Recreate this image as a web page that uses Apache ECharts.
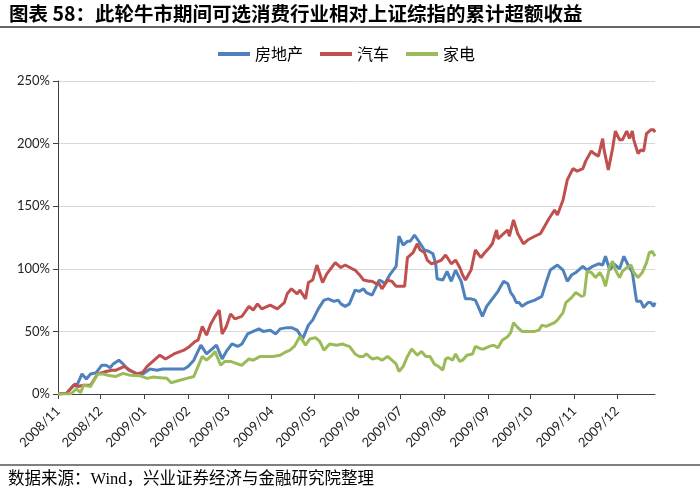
<!DOCTYPE html>
<html><head><meta charset="utf-8">
<script src="https://cdn.jsdelivr.net/npm/echarts@6/dist/echarts.min.js"></script>
<style>html,body{margin:0;padding:0;background:#fff}#c{width:700px;height:489px}</style>
</head><body><div id="c"></div>
<script>
const titleText = '图表 58：此轮牛市期间可选消费行业相对上证综指的累计超额收益';
const sourceText = '数据来源：Wind，兴业证券经济与金融研究院整理';
const seriesNames = ['房地产', '汽车', '家电'];
const seriesColors = ['#4F81BD', '#C0504D', '#9BBB59'];
const tickLabels = ['2008/11','2008/12','2009/01','2009/02','2009/03','2009/04','2009/05','2009/06','2009/07','2009/08','2009/09','2009/10','2009/11','2009/12'];
const tickDates = ['2008-11-04','2008-12-04','2009-01-04','2009-02-04','2009-03-04','2009-04-04','2009-05-04','2009-06-04','2009-07-04','2009-08-04','2009-09-04','2009-10-04','2009-11-04','2009-12-04'];
const xStart = '2008-11-04';
const xEnd = '2009-12-31';

// 房地产 (%)
const realEstate = [
['2008-11-04',0],['2008-11-10',0.5],['2008-11-15',7],['2008-11-17',6],['2008-11-21',16],['2008-11-24',12],['2008-11-27',16],
['2008-12-01',17],['2008-12-05',23],['2008-12-08',23],['2008-12-11',21],['2008-12-13',24],['2008-12-17',27],['2008-12-20',24],['2008-12-24',19],['2008-12-30',16],
['2009-01-03',16],['2009-01-08',20],['2009-01-13',19],['2009-01-17',20],['2009-01-22',20],
['2009-02-01',20],['2009-02-04',22],['2009-02-08',27],['2009-02-13',39],['2009-02-17',32],['2009-02-21',36],['2009-02-24',39],['2009-02-28',28],
['2009-03-03',34],['2009-03-07',40],['2009-03-11',38],['2009-03-14',40],['2009-03-18',48],['2009-03-22',50],['2009-03-26',52],['2009-03-29',50],
['2009-04-03',51],['2009-04-07',48],['2009-04-10',52],['2009-04-15',53],['2009-04-18',53],['2009-04-22',51],['2009-04-26',44],['2009-04-30',55],
['2009-05-03',59],['2009-05-07',68],['2009-05-11',75],['2009-05-14',76],['2009-05-18',74],['2009-05-21',75],['2009-05-23',72],['2009-05-26',70],['2009-05-29',72],
['2009-06-02',83],['2009-06-05',82],['2009-06-08',84],['2009-06-10',81],['2009-06-14',79],['2009-06-17',86],['2009-06-19',91],['2009-06-21',90],['2009-06-23',88],['2009-06-27',96],
['2009-07-01',102],['2009-07-03',126],['2009-07-06',119],['2009-07-09',122],['2009-07-11',122],['2009-07-14',127],['2009-07-17',122],['2009-07-21',115],['2009-07-24',114],['2009-07-27',112],['2009-07-29',104],['2009-07-30',92],
['2009-08-03',91],['2009-08-06',98],['2009-08-09',90],['2009-08-12',99],['2009-08-16',90],['2009-08-19',76],['2009-08-23',76],['2009-08-26',75],['2009-08-28',70],['2009-08-31',62],
['2009-09-03',70],['2009-09-07',76],['2009-09-11',82],['2009-09-13',86],['2009-09-15',90],['2009-09-18',88],['2009-09-20',81],['2009-09-22',78],['2009-09-24',73],['2009-09-26',73],['2009-09-28',70],
['2009-10-02',73],['2009-10-07',75],['2009-10-12',78],['2009-10-15',89],['2009-10-18',99],['2009-10-23',103],['2009-10-27',99],['2009-10-30',90],
['2009-11-02',95],['2009-11-05',97],['2009-11-07',99],['2009-11-10',102],['2009-11-13',99],['2009-11-17',102],['2009-11-21',104],['2009-11-24',103],['2009-11-26',110],['2009-11-29',99],
['2009-12-02',104],['2009-12-06',100],['2009-12-09',110],['2009-12-12',103],['2009-12-15',97],['2009-12-18',74],['2009-12-21',74],['2009-12-23',69],['2009-12-26',73],['2009-12-28',73],['2009-12-30',70],['2009-12-31',73]
];

// 汽车 (%)
const automobile = [
['2008-11-04',0],['2008-11-10',0.5],['2008-11-16',8],['2008-11-18',6],['2008-11-22',7],['2008-11-27',7],
['2008-12-02',16],['2008-12-08',18],['2008-12-12',19],['2008-12-15',19],['2008-12-21',22],['2008-12-25',19],['2008-12-30',16],
['2009-01-03',17.5],['2009-01-06',22],['2009-01-10',26],['2009-01-15',31],['2009-01-19',28],['2009-01-25',32],
['2009-02-01',35],['2009-02-05',38],['2009-02-09',42],['2009-02-11',43],['2009-02-14',54],['2009-02-17',47],['2009-02-20',56],['2009-02-23',62],['2009-02-26',67],['2009-02-28',48],
['2009-03-03',54],['2009-03-06',64],['2009-03-09',60],['2009-03-14',62],['2009-03-19',70],['2009-03-22',67],['2009-03-25',72],['2009-03-28',68],
['2009-04-03',71],['2009-04-08',68],['2009-04-13',73],['2009-04-15',80],['2009-04-18',84],['2009-04-22',80],['2009-04-24',83],['2009-04-28',76],['2009-04-30',89],
['2009-05-03',91],['2009-05-06',103],['2009-05-10',89],['2009-05-13',96],['2009-05-19',105],['2009-05-23',101],['2009-05-26',103],['2009-05-31',100],
['2009-06-02',99],['2009-06-06',94],['2009-06-08',91],['2009-06-12',90],['2009-06-14',90],['2009-06-17',88],['2009-06-19',88],['2009-06-21',84],['2009-06-25',91],['2009-06-28',90],
['2009-07-01',86],['2009-07-04',86],['2009-07-07',86],['2009-07-09',109],['2009-07-13',113],['2009-07-16',120],['2009-07-18',115],['2009-07-21',113],['2009-07-23',107],['2009-07-26',104],['2009-07-29',105],
['2009-08-02',107],['2009-08-05',111],['2009-08-09',104],['2009-08-12',107],['2009-08-15',101],['2009-08-17',95],['2009-08-19',91],['2009-08-23',99],['2009-08-26',115],['2009-08-30',109],
['2009-09-01',112],['2009-09-05',117],['2009-09-07',120],['2009-09-10',131],['2009-09-11',124],['2009-09-14',127],['2009-09-18',131],['2009-09-19',126],['2009-09-22',139],['2009-09-25',128],['2009-09-29',120],
['2009-10-02',123],['2009-10-07',126],['2009-10-11',128],['2009-10-14',134],['2009-10-17',140],['2009-10-21',147],['2009-10-23',143],['2009-10-27',155],['2009-10-30',171],
['2009-11-03',180],['2009-11-06',178],['2009-11-10',180],['2009-11-12',186],['2009-11-16',194],['2009-11-18',192],['2009-11-21',190],['2009-11-24',204],['2009-11-25',195],['2009-11-28',179],
['2009-12-01',196],['2009-12-03',210],['2009-12-06',203],['2009-12-08',203],['2009-12-11',210],['2009-12-13',204],['2009-12-15',210],['2009-12-16',203],['2009-12-19',192],['2009-12-21',195],['2009-12-23',194],['2009-12-25',208],['2009-12-28',211],['2009-12-30',211],['2009-12-31',209]
];

// 家电 (%)
const appliance = [
['2008-11-04',0],['2008-11-13',0],['2008-11-17',4],['2008-11-20',1],['2008-11-22',7],['2008-11-27',6],
['2008-12-02',16],['2008-12-06',16],['2008-12-11',14.5],['2008-12-15',14],['2008-12-20',16.5],['2008-12-25',15],
['2009-01-01',14.5],['2009-01-06',12.5],['2009-01-10',13.5],['2009-01-15',13],['2009-01-20',12.5],['2009-01-23',9],['2009-01-29',11],
['2009-02-03',12.5],['2009-02-08',14],['2009-02-11',22],['2009-02-14',30],['2009-02-17',27],['2009-02-21',31],['2009-02-23',34],['2009-02-27',23],
['2009-03-02',26],['2009-03-06',26],['2009-03-11',24],['2009-03-14',23],['2009-03-19',28],['2009-03-22',27],['2009-03-27',30],
['2009-04-01',30],['2009-04-05',30],['2009-04-10',31],['2009-04-13',33],['2009-04-17',35],['2009-04-20',38],['2009-04-24',46],['2009-04-28',39],
['2009-05-01',44],['2009-05-05',45],['2009-05-08',42],['2009-05-11',35],['2009-05-15',40],['2009-05-20',39],['2009-05-24',40],['2009-05-26',39],['2009-05-29',38],
['2009-06-02',32],['2009-06-05',30],['2009-06-08',30],['2009-06-10',32],['2009-06-14',28],['2009-06-18',29],['2009-06-21',27],['2009-06-25',30],['2009-06-28',27],
['2009-07-01',24],['2009-07-03',18],['2009-07-06',22],['2009-07-09',30],['2009-07-12',36],['2009-07-16',31],['2009-07-19',34],['2009-07-22',30],['2009-07-25',30],['2009-07-28',24],['2009-07-31',22],
['2009-08-03',19],['2009-08-05',28],['2009-08-07',29],['2009-08-10',27],['2009-08-12',32],['2009-08-15',26],['2009-08-17',27],['2009-08-20',31],['2009-08-24',32],['2009-08-26',38],['2009-08-30',36],
['2009-09-01',36],['2009-09-05',38],['2009-09-08',39],['2009-09-11',37],['2009-09-14',43],['2009-09-18',46],['2009-09-20',49],['2009-09-22',57],['2009-09-25',53],['2009-09-28',50],
['2009-10-02',50],['2009-10-07',50],['2009-10-10',51],['2009-10-12',55],['2009-10-15',54],['2009-10-17',55],['2009-10-21',57],['2009-10-23',59],['2009-10-27',65],['2009-10-29',73],
['2009-11-02',77],['2009-11-05',81],['2009-11-09',78],['2009-11-11',79],['2009-11-13',98],['2009-11-16',97],['2009-11-19',93],['2009-11-22',97],['2009-11-24',93],['2009-11-26',86],['2009-11-29',102],
['2009-12-01',106],['2009-12-03',99],['2009-12-06',93],['2009-12-08',98],['2009-12-11',101],['2009-12-14',103],['2009-12-16',97],['2009-12-19',93],['2009-12-22',97],['2009-12-25',105],['2009-12-27',113],['2009-12-29',114],['2009-12-31',110]
];

const seriesData = [realEstate, automobile, appliance];

function toTime(s) {
  const p = s.split('-');
  return new Date(+p[0], +p[1] - 1, +p[2]).getTime();
}
const tickValues = tickDates.map(toTime);

const chart = echarts.init(document.getElementById('c'), null, {renderer: 'canvas'});
const labelFont = 'Lato, "Liberation Sans", sans-serif';
const cjkFont = '"Noto Sans CJK SC", sans-serif';

function tickLabelFor(value) {
  for (let i = 0; i < tickValues.length; i++) {
    if (Math.abs(tickValues[i] - value) < 43200000) return tickLabels[i];
  }
  return '';
}

chart.setOption({
  animation: false,
  backgroundColor: '#fff',
  color: seriesColors,
  grid: {left: 58, right: 45, top: 81, bottom: 95, containLabel: false},
  legend: {
    data: seriesNames,
    left: 213, top: 41,
    icon: 'rect', itemWidth: 32, itemHeight: 4, itemGap: 17,
    textStyle: {fontFamily: cjkFont, fontSize: 16, color: '#000'}
  },
  xAxis: {
    type: 'value',
    min: toTime(xStart), max: toTime(xEnd),
    axisLine: {show: true, onZero: false, lineStyle: {color: '#404040', width: 1}},
    axisTick: {show: true, length: 5, customValues: tickValues, lineStyle: {color: '#404040'}},
    axisLabel: {
      customValues: tickValues,
      rotate: 45, margin: 15,
      fontFamily: labelFont, fontSize: 13, color: '#222',
      formatter: function (v) { return tickLabelFor(v); }
    },
    splitLine: {show: false}
  },
  yAxis: {
    type: 'value', min: 0, max: 250, interval: 50,
    axisLine: {show: true, lineStyle: {color: '#404040', width: 1}},
    axisTick: {show: true, length: 5, lineStyle: {color: '#404040'}},
    axisLabel: {formatter: '{value}%', margin: 8, fontFamily: labelFont, fontSize: 13, color: '#222'},
    splitLine: {show: true, lineStyle: {color: '#d9d9d9', width: 1}}
  },
  series: seriesNames.map((name, i) => ({
    name: name, type: 'line',
    data: seriesData[i].map(p => [toTime(p[0]), p[1]]),
    showSymbol: false, symbol: 'none',
    lineStyle: {width: 3, color: seriesColors[i]},
    itemStyle: {color: seriesColors[i]}
  })),
  graphic: [
    {type: 'text', left: 9, top: 4, style: {text: titleText, font: 'bold 19.5px "Noto Sans CJK SC", sans-serif', fill: '#000'}},
    {type: 'line', shape: {x1: 0, y1: 27, x2: 700, y2: 27}, style: {stroke: '#333', lineWidth: 1.3}},
    {type: 'line', shape: {x1: 0, y1: 465, x2: 700, y2: 465}, style: {stroke: '#555', lineWidth: 1.3}},
    {type: 'text', left: 8, top: 471, style: {text: sourceText, font: '16.5px "Liberation Serif", "Noto Sans CJK SC", serif', fill: '#000'}}
  ]
});
</script>
</body></html>
